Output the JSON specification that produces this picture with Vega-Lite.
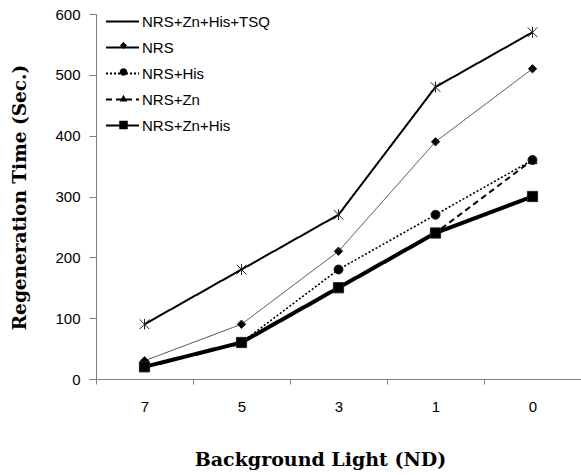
{
  "$schema": "https://vega.github.io/schema/vega-lite/v6.json",
  "width": 485,
  "height": 365,
  "autosize": "none",
  "padding": {"left": 96, "top": 14, "right": 0, "bottom": 96},
  "background": "white",
  "config": {"view": {"stroke": null}},
  "data": {
    "values": [
      {"series": "NRS+Zn+His+TSQ", "nd": "7", "time": 90},
      {"series": "NRS+Zn+His+TSQ", "nd": "5", "time": 180},
      {"series": "NRS+Zn+His+TSQ", "nd": "3", "time": 270},
      {"series": "NRS+Zn+His+TSQ", "nd": "1", "time": 480},
      {"series": "NRS+Zn+His+TSQ", "nd": "0", "time": 570},
      {"series": "NRS", "nd": "7", "time": 30},
      {"series": "NRS", "nd": "5", "time": 90},
      {"series": "NRS", "nd": "3", "time": 210},
      {"series": "NRS", "nd": "1", "time": 390},
      {"series": "NRS", "nd": "0", "time": 510},
      {"series": "NRS+Zn", "nd": "7", "time": 20},
      {"series": "NRS+Zn", "nd": "5", "time": 60},
      {"series": "NRS+Zn", "nd": "3", "time": 150},
      {"series": "NRS+Zn", "nd": "1", "time": 240},
      {"series": "NRS+Zn", "nd": "0", "time": 360},
      {"series": "NRS+His", "nd": "7", "time": 20},
      {"series": "NRS+His", "nd": "5", "time": 60},
      {"series": "NRS+His", "nd": "3", "time": 180},
      {"series": "NRS+His", "nd": "1", "time": 270},
      {"series": "NRS+His", "nd": "0", "time": 360},
      {"series": "NRS+Zn+His", "nd": "7", "time": 20},
      {"series": "NRS+Zn+His", "nd": "5", "time": 60},
      {"series": "NRS+Zn+His", "nd": "3", "time": 150},
      {"series": "NRS+Zn+His", "nd": "1", "time": 240},
      {"series": "NRS+Zn+His", "nd": "0", "time": 300}
    ]
  },
  "encoding": {
    "x": {
      "field": "nd",
      "type": "ordinal",
      "sort": ["7", "5", "3", "1", "0"],
      "bandPosition": 0.5,
      "scale": {"type": "band", "paddingInner": 0, "paddingOuter": 0},
      "axis": {
        "title": "Background Light (ND)",
        "tickBand": "extent",
        "tickSize": 5,
        "labelPadding": 15,
        "labelAngle": 0,
        "labelBaseline": "top",
        "labelFont": "Liberation Sans",
        "labelFontSize": 15,
        "labelColor": "black",
        "domainColor": "#808080",
        "tickColor": "#808080",
        "grid": false,
        "titleFont": "DejaVu Serif",
        "titleFontWeight": "bold",
        "titleFontSize": 19,
        "titleColor": "black",
        "titleX": 224,
        "titleY": 71,
        "titleBaseline": "top",
        "titleAlign": "center"
      }
    },
    "y": {
      "field": "time",
      "type": "quantitative",
      "scale": {"domain": [0, 600]},
      "axis": {
        "title": "Regeneration Time (Sec.)",
        "values": [0, 100, 200, 300, 400, 500, 600],
        "tickSize": 7,
        "labelPadding": 9,
        "labelFont": "Liberation Sans",
        "labelFontSize": 15,
        "labelColor": "black",
        "domainColor": "#808080",
        "tickColor": "#808080",
        "grid": false,
        "titleFont": "DejaVu Serif",
        "titleFontWeight": "bold",
        "titleFontSize": 18.5,
        "titleColor": "black",
        "titleX": -77,
        "titleY": 183,
        "titleAngle": -90,
        "titleBaseline": "middle",
        "titleAlign": "center"
      }
    }
  },
  "layer": [
    {
      "mark": {"type": "line"},
      "encoding": {
        "strokeDash": {
          "field": "series",
          "type": "nominal",
          "scale": {
            "domain": ["NRS+Zn+His+TSQ", "NRS", "NRS+His", "NRS+Zn", "NRS+Zn+His"],
            "range": [[1, 0], [1, 0], [2, 2], [6, 4], [1, 0]]
          },
          "legend": {
            "orient": "none",
            "legendX": 9,
            "legendY": -10,
            "title": null,
            "padding": 0,
            "symbolType": "stroke",
            "symbolSize": 1089,
            "symbolStrokeWidth": 2,
            "symbolStrokeColor": "black",
            "symbolOpacity": 1,
            "labelOffset": 2,
            "rowPadding": -8.8,
            "labelFont": "Liberation Sans",
            "labelFontSize": 15,
            "labelColor": "black"
          }
        },
        "strokeWidth": {
          "condition": [
            {"test": "(datum.series || datum.value) === 'NRS+Zn+His'", "value": 4},
            {"test": "(datum.series || datum.value) === 'NRS'", "value": 1},
            {"test": "(datum.series || datum.value) === 'NRS+His'", "value": 1.6}
          ],
          "value": 2
        },
        "color": {
          "condition": {"test": "(datum.series || datum.value) === 'NRS'", "value": "#444444"},
          "value": "black"
        }
      }
    },
    {
      "mark": {"type": "point", "filled": true, "opacity": 1, "strokeWidth": 1, "stroke": "#222222", "size": 144},
      "encoding": {
        "shape": {
          "field": "series",
          "type": "nominal",
          "sort": ["NRS+Zn+His+TSQ", "NRS", "NRS+His", "NRS+Zn", "NRS+Zn+His"],
          "scale": {
            "range": [
              "M-0.8,-0.8L0.8,0.8M-0.8,0.8L0.8,-0.8M0,-0.9L0,0.9",
              "M0,-0.7L0.7,0L0,0.7L-0.7,0Z",
              "M-0.75,0A0.75,0.75 0 1,0 0.75,0A0.75,0.75 0 1,0 -0.75,0Z",
              "M0,-0.75L0.75,0.6L-0.75,0.6Z",
              "M-0.85,-0.85L0.85,-0.85L0.85,0.85L-0.85,0.85Z"
            ]
          },
          "legend": {
            "orient": "none",
            "legendX": 20,
            "legendY": -2.5,
            "title": null,
            "padding": 0,
            "symbolSize": 100,
            "symbolFillColor": "black",
            "symbolStrokeColor": "black",
            "symbolStrokeWidth": 1,
            "symbolOpacity": 1,
            "labelOffset": 2,
            "rowPadding": 10.5,
            "labelFont": "Liberation Sans",
            "labelFontSize": 15,
            "labelExpr": "' '",
            "labelOpacity": 0
          }
        },
        "color": {"value": "black"}
      }
    }
  ]
}
